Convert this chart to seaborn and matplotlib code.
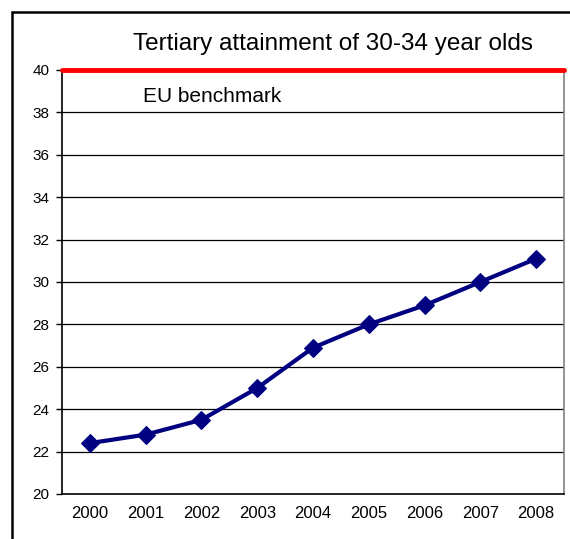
import matplotlib
matplotlib.use("Agg")
import matplotlib.pyplot as plt
import seaborn as sns
import pandas as pd
from matplotlib.patches import Rectangle

years = ["2000", "2001", "2002", "2003", "2004", "2005", "2006", "2007", "2008"]
values = [22.4, 22.8, 23.5, 25.0, 26.9, 28.0, 28.9, 30.0, 31.1]
benchmark = 40
title = "Tertiary attainment of 30-34 year olds"
bench_label = "EU benchmark"
yticks = list(range(20, 41, 2))

sns.set_style("white")
plt.rcParams['font.family'] = ['Liberation Sans', 'DejaVu Sans']
plt.rcParams['text.color'] = 'black'
plt.rcParams['xtick.color'] = 'black'
plt.rcParams['ytick.color'] = 'black'

fig = plt.figure(figsize=(5.70, 5.39), dpi=100)
ax = fig.add_axes([62/570, 1-494/539, (564-62)/570, (494-70)/539])

df = pd.DataFrame({"year": years, "value": values})
sns.lineplot(data=df, x="year", y="value", ax=ax, color="#000080", linewidth=3,
             marker="D", markersize=9, markeredgecolor="#000080", zorder=5)

ax.set_xlim(-0.5, len(years) - 0.5)
ax.set_ylim(20, 40)
ax.set_yticks(yticks)
ax.set_yticklabels([str(t) for t in yticks], fontsize=11)
ax.set_xticks(range(len(years)))
ax.set_xticklabels(years, fontsize=12)
ax.set_xticks([i - 0.5 for i in range(len(years) + 1)], minor=True)
ax.tick_params(axis="x", which="major", length=0, pad=9, labelcolor="black")
ax.tick_params(axis="x", which="minor", length=4, width=1, color="black", direction="out")
ax.tick_params(axis="y", length=4, width=1, color="black", direction="out", left=True, pad=5,
               labelcolor="black")
ax.set_xlabel("")
ax.set_ylabel("")

for t in yticks[1:-1]:
    ax.axhline(t, color="black", linewidth=0.9, zorder=1)
ax.axhline(benchmark, color="#ff0000", linewidth=3.5, zorder=4, clip_on=False)

for side in ["left", "bottom"]:
    ax.spines[side].set_color("black")
    ax.spines[side].set_linewidth(1.2)
ax.spines["right"].set_color("#808080")
ax.spines["right"].set_linewidth(1.2)
ax.spines["top"].set_visible(False)

fig.text(333/570, 1-44/539, title, ha="center", va="center", fontsize=17.5, color="black")
ax.text(143/570, 1-97/539, bench_label, ha="left", va="center", fontsize=15, color="black",
        transform=fig.transFigure)

fig.add_artist(Rectangle((12/570, -0.2), 1.2, 1-12/539 + 0.2, transform=fig.transFigure,
                         fill=False, edgecolor="black", linewidth=1.8, clip_on=False))

fig.savefig("out.png", dpi=100)
